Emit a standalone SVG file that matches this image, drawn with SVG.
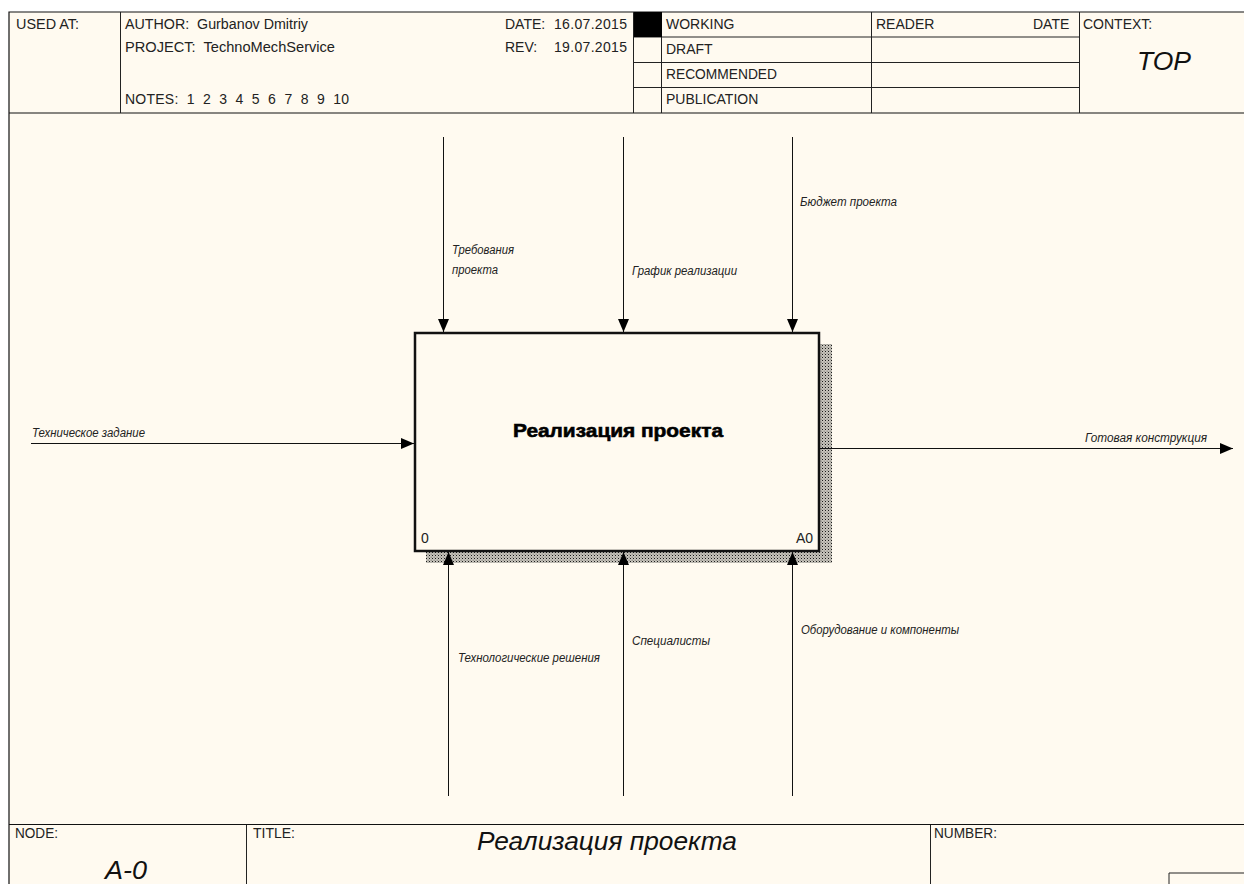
<svg xmlns="http://www.w3.org/2000/svg" width="1244" height="884" viewBox="0 0 1244 884">
<style>
.l{stroke:#222;stroke-width:1;fill:none}
.b{stroke:#111;stroke-width:1.2;fill:none}
.c{stroke:#111;stroke-width:1;fill:none}
.h{font:14px "Liberation Sans",Arial,sans-serif;fill:#222}
.a{font:italic 12px "Liberation Sans",Arial,sans-serif;fill:#222}
.t{font:italic 26px "Liberation Sans",Arial,sans-serif;fill:#111}
</style>
<defs>
<pattern id="sh" width="3" height="3" patternUnits="userSpaceOnUse">
<rect width="3" height="3" fill="#c6c3bb"/>
<rect width="1" height="1" fill="#1a1a1a"/>
<rect x="1.500" y="1.500" width="1.500" height="1.500" fill="#a09d96"/>
</pattern>
<marker id="ah" markerUnits="userSpaceOnUse" markerWidth="13" markerHeight="12" refX="13" refY="6" orient="auto">
<path d="M0 .5L13 6L0 11.500Z" fill="#000"/>
</marker>
</defs>
<rect width="1244" height="884" fill="#fff"/>
<rect x="9" y="12" width="1235" height="872" fill="#fffaf0"/>
<g id="frame">
<path class="b" d="M9 884V12H1244M9 113H1244M9 824.500H1244"/>
<path class="l" d="M120.500 12V113M633.500 12V113M661.500 12V113M871.500 12V113M1079.500 12V113M633 37H1079M633 62.500H1079M633 87.500H1079M246.500 825V884M930.500 825V884M1169 884V873H1244"/>
<rect x="634" y="12" width="28" height="25" fill="#000"/>
</g>
<g id="header-text" class="h">
<text x="16" y="29" textLength="63" lengthAdjust="spacingAndGlyphs">USED AT:</text>
<text x="125" y="29" textLength="183" lengthAdjust="spacingAndGlyphs" xml:space="preserve">AUTHOR:  Gurbanov Dmitriy</text>
<text x="125" y="52" textLength="210" lengthAdjust="spacingAndGlyphs" xml:space="preserve">PROJECT:  TechnoMechService</text>
<text x="125" y="104" textLength="224" xml:space="preserve">NOTES:  1  2  3  4  5  6  7  8  9  10</text>
<text x="505" y="29">DATE:</text><text x="554" y="29" textLength="73">16.07.2015</text>
<text x="505" y="52">REV:</text><text x="554" y="52" textLength="73">19.07.2015</text>
<text x="666" y="29">WORKING</text>
<text x="666" y="54">DRAFT</text>
<text x="666" y="79" textLength="111" lengthAdjust="spacingAndGlyphs">RECOMMENDED</text>
<text x="666" y="104">PUBLICATION</text>
<text x="876" y="29">READER</text>
<text x="1033" y="29">DATE</text>
<text x="1083" y="29">CONTEXT:</text>
<text x="1137" y="70" class="t" textLength="54" lengthAdjust="spacingAndGlyphs">TOP</text>
</g>
<g id="footer-text">
<text x="15" y="838" class="h" textLength="43" lengthAdjust="spacingAndGlyphs">NODE:</text>
<text x="253" y="838" class="h">TITLE:</text>
<text x="934" y="838" class="h" textLength="63" lengthAdjust="spacingAndGlyphs">NUMBER:</text>
<text x="477" y="850" class="t" textLength="260" lengthAdjust="spacingAndGlyphs">Реализация проекта</text>
<text x="105" y="878.500" class="t" font-size="25" style="font-size:25px" textLength="42" lengthAdjust="spacingAndGlyphs">A-0</text>
</g>
<g id="A0">
<path d="M426 551H820V344H832V563H426Z" fill="url(#sh)"/>
<rect x="415" y="333" width="404" height="218" fill="#fffaf0" stroke="#111" stroke-width="2.500"/>
<text x="513" y="437" textLength="210" lengthAdjust="spacingAndGlyphs" font-family="'Liberation Sans',Arial,sans-serif" font-size="19" font-weight="bold" stroke="#000" stroke-width=".6" fill="#000">Реализация проекта</text>
<text x="421" y="543" class="h">0</text>
<text x="796" y="543" class="h">A0</text>
</g>
<g id="connectors">
<path class="c" marker-end="url(#ah)" d="M443.500 137V332"/>
<path class="c" marker-end="url(#ah)" d="M623.500 137V332"/>
<path class="c" marker-end="url(#ah)" d="M792.500 137V332"/>
<path class="c" marker-end="url(#ah)" d="M31 443.500H414"/>
<path class="c" marker-end="url(#ah)" d="M820 448.500H1233"/>
<path class="c" marker-end="url(#ah)" d="M448.500 796V552"/>
<path class="c" marker-end="url(#ah)" d="M623.500 796V552"/>
<path class="c" marker-end="url(#ah)" d="M792.500 796V552"/>
</g>
<g id="labels" class="a">
<text x="452" y="254" textLength="62" lengthAdjust="spacingAndGlyphs">Требования</text>
<text x="452" y="274" textLength="46" lengthAdjust="spacingAndGlyphs">проекта</text>
<text x="632" y="275" textLength="105" lengthAdjust="spacingAndGlyphs">График реализации</text>
<text x="800" y="206" textLength="97" lengthAdjust="spacingAndGlyphs">Бюджет проекта</text>
<text x="32" y="437" textLength="113" lengthAdjust="spacingAndGlyphs">Техническое задание</text>
<text x="1085" y="442" textLength="122" lengthAdjust="spacingAndGlyphs">Готовая конструкция</text>
<text x="458" y="662" textLength="142" lengthAdjust="spacingAndGlyphs">Технологические решения</text>
<text x="632" y="645" textLength="78" lengthAdjust="spacingAndGlyphs">Специалисты</text>
<text x="801" y="634" textLength="158" lengthAdjust="spacingAndGlyphs">Оборудование и компоненты</text>
</g>
</svg>
